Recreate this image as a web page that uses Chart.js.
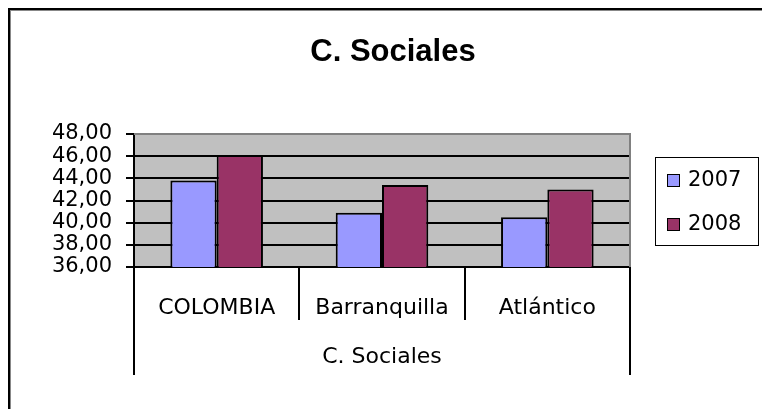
<!DOCTYPE html>
<html>
<head>
<meta charset="utf-8">
<script src="https://cdn.jsdelivr.net/npm/chart.js@4.4.1/dist/chart.umd.min.js"></script>
<style>
  html, body { margin: 0; padding: 0; background: #fff; overflow: hidden; }
  #c { position: absolute; left: 0; top: 0; }
</style>
</head>
<body>
<canvas id="c" width="762" height="409"></canvas>
<script>
// data
const chartTitle = 'C. Sociales';
const categories = ['COLOMBIA', 'Barranquilla', 'Atlántico'];
const groupLabel = 'C. Sociales';
const seriesLabels = ['2007', '2008'];
const values2007 = [43.8, 40.9, 40.5];
const values2008 = [46.1, 43.4, 43.0];
const yMin = 36;
const yMax = 48;
const yStep = 2;

const FONT = 'DejaVu Sans';
const fmt = v => v.toFixed(2).replace('.', ',');

// Excel-ish frame, plot background and the hand-made legend
const excelFrame = {
    id: 'excelFrame',
    beforeDraw(chart) {
        const { ctx, chartArea: a } = chart;
        ctx.save();
        ctx.fillStyle = '#fff';
        ctx.fillRect(0, 0, chart.width, chart.height);
        // outer chart border (runs off the right/bottom edge)
        ctx.fillStyle = '#000';
        ctx.fillRect(8, 8, chart.width, 2);
        ctx.fillRect(8, 8, 2, chart.height);
        ctx.fillStyle = '#888';
        ctx.fillRect(10, 10, chart.width, 1);
        ctx.fillRect(10, 10, 1, chart.height);
        // plot area
        ctx.fillStyle = '#C0C0C0';
        ctx.fillRect(a.left, a.top, a.right - a.left, a.bottom - a.top);
        ctx.restore();
    },
    beforeDatasetsDraw(chart) {
        const { ctx, chartArea: a } = chart;
        ctx.save();
        ctx.strokeStyle = '#808080';
        ctx.lineWidth = 2;
        ctx.beginPath();
        ctx.moveTo(a.left, a.top);
        ctx.lineTo(a.right, a.top);
        ctx.lineTo(a.right, a.bottom);
        ctx.stroke();
        ctx.restore();
    },
    afterDraw(chart) {
        const { ctx, chartArea: a } = chart;
        ctx.save();
        // title
        ctx.fillStyle = '#000';
        ctx.font = 'bold 31px "Liberation Sans", Arial, sans-serif';
        ctx.textAlign = 'center';
        ctx.textBaseline = 'middle';
        ctx.fillText(chartTitle, 393, 52);

        // outer group dividers reach down past the category row
        ctx.strokeStyle = '#000';
        ctx.lineWidth = 2;
        ctx.beginPath();
        ctx.moveTo(a.left, a.bottom);
        ctx.lineTo(a.left, 375);
        ctx.moveTo(a.right, a.bottom);
        ctx.lineTo(a.right, 375);
        ctx.stroke();

        // legend
        ctx.lineWidth = 1;
        ctx.strokeRect(655.5, 157.5, 103, 88);
        ctx.font = '21px "' + FONT + '"';
        ctx.textAlign = 'left';
        chart.data.datasets.forEach((ds, i) => {
            const cy = 180 + i * 44;
            ctx.fillStyle = ds.backgroundColor;
            ctx.fillRect(667, cy - 6, 12, 12);
            ctx.strokeRect(667.5, cy - 5.5, 12, 12);
            ctx.fillStyle = '#000';
            ctx.fillText(ds.label, 688, cy + 1);
        });
        ctx.restore();
    }
};

new Chart(document.getElementById('c'), {
    type: 'bar',
    plugins: [excelFrame],
    data: {
        labels: categories,
        datasets: [
            {
                label: seriesLabels[0],
                data: values2007,
                backgroundColor: '#9999FF',
                borderColor: '#000',
                borderWidth: 2,
                borderSkipped: false
            },
            {
                label: seriesLabels[1],
                data: values2008,
                backgroundColor: '#993366',
                borderColor: '#000',
                borderWidth: 2,
                borderSkipped: false
            }
        ]
    },
    options: {
        responsive: false,
        animation: false,
        categoryPercentage: 0.56,
        barPercentage: 1,
        layout: { padding: { left: 10, right: 132, top: 134, bottom: 0 } },
        plugins: {
            legend: { display: false },
            title: { display: false },
            tooltip: { enabled: false }
        },
        scales: {
            x: {
                afterFit(scale) { scale.height = 142; },
                grid: {
                    offset: true,
                    drawOnChartArea: false,
                    drawTicks: true,
                    tickLength: 53,
                    color: '#000',
                    lineWidth: 2
                },
                border: { display: true, color: '#000', width: 2 },
                ticks: {
                    color: '#000',
                    font: { family: FONT, size: 22 },
                    padding: -25,
                    maxRotation: 0
                },
                title: {
                    display: true,
                    text: groupLabel,
                    color: '#000',
                    font: { family: FONT, size: 22 },
                    padding: { top: 39, bottom: 39 }
                }
            },
            y: {
                min: yMin,
                max: yMax,
                afterFit(scale) { scale.width = 124; },
                grid: {
                    color: c => (c.tick && c.tick.value === yMax ? '#808080' : '#000'),
                    tickColor: '#000',
                    lineWidth: 2,
                    tickLength: 8
                },
                border: { display: true, color: '#000', width: 2 },
                ticks: {
                    stepSize: yStep,
                    autoSkip: false,
                    color: '#000',
                    font: { family: FONT, size: 21, lineHeight: 1 },
                    padding: 14,
                    callback: v => fmt(v)
                }
            }
        }
    }
});
</script>
</body>
</html>
